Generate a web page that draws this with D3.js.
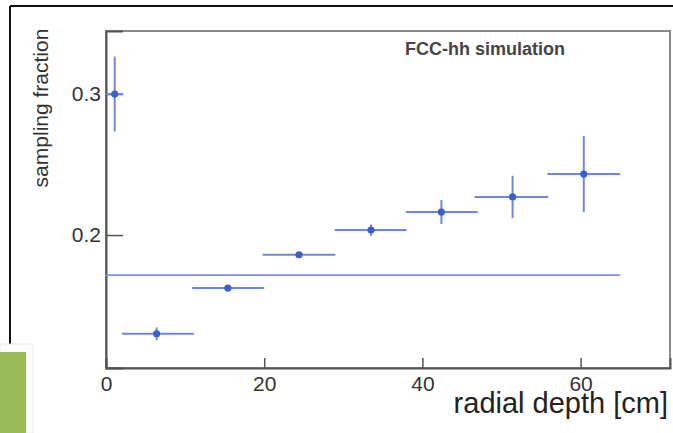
<!DOCTYPE html>
<html>
<head>
<meta charset="utf-8">
<script src="https://cdn.jsdelivr.net/npm/d3@7"></script>
<style>
  body { margin: 0; background: #fff; }
  svg { display: block; font-family: "Liberation Sans", Arial, sans-serif; }
</style>
</head>
<body>
<div id="chart"></div>
<script>
// data
var depth = [1.1, 6.4, 15.4, 24.4, 33.5, 42.4, 51.4, 60.4]
var depthLo = [0, 2.0, 10.9, 19.8, 28.9, 37.9, 46.6, 55.8]
var depthHi = [2.2, 11.1, 20.0, 29.0, 38.0, 47.0, 55.9, 65.0]
var fraction = [0.300, 0.130, 0.1624, 0.186, 0.2035, 0.2163, 0.227, 0.2433]
var fracErr = [0.0265, 0.0045, 0.002, 0.002, 0.004, 0.0085, 0.015, 0.027]
var fitValue = 0.1716
var fitRange = [0, 65]
var xMajor = [0, 20, 40, 60]
var xMinor = [5, 10, 15, 25, 30, 35, 45, 50, 55, 65, 70]
var yMajor = [0.2, 0.3]
var yMinor = [0.12, 0.14, 0.16, 0.18, 0.22, 0.24, 0.26, 0.28, 0.32, 0.34]

var W = 673, H = 433
var margin = { top: 31, right: 3, bottom: 65, left: 106 }
var svg = d3.select('#chart').append('svg')
  .attr('width', W)
  .attr('height', H)

// screenshot decorations: outer frame and the green box
svg.append('line').attr('x1', 10).attr('y1', 6).attr('x2', 673).attr('y2', 6)
  .attr('stroke', '#111').attr('stroke-width', 2)
svg.append('line').attr('x1', 10).attr('y1', 6).attr('x2', 10).attr('y2', 344)
  .attr('stroke', '#111').attr('stroke-width', 2)
svg.append('rect').attr('x', 0).attr('y', 344).attr('width', 33).attr('height', 89)
  .attr('fill', '#fcfcfc').attr('stroke', '#eee')
svg.append('rect').attr('x', 0).attr('y', 352).attr('width', 26).attr('height', 81)
  .attr('fill', '#9bbb59')

var x = d3.scaleLinear().domain([0, 71.3]).range([margin.left, W - margin.right])
var y = d3.scaleLinear().domain([0.1057, 0.3447]).range([H - margin.bottom, margin.top])

// frame
svg.append('rect')
  .attr('x', x(0)).attr('y', y.range()[1])
  .attr('width', x.range()[1] - x(0)).attr('height', y.range()[0] - y.range()[1])
  .attr('fill', 'none').attr('stroke', '#8a8a8a').attr('stroke-width', 2)

// x axis, ticks pointing inward
var gx = svg.append('g').attr('transform', 'translate(0,' + y.range()[0] + ')')
gx.call(d3.axisBottom(x).tickValues(xMinor).tickSize(-5).tickFormat(''))
gx.call(d3.axisBottom(x).tickValues(xMajor).tickSize(-10).tickPadding(7).tickFormat(d3.format('d')))
gx.selectAll('.domain').attr('stroke', '#555').attr('stroke-width', 2)
gx.selectAll('.tick line').attr('stroke', '#555').attr('stroke-width', 1.5)
gx.selectAll('text').attr('font-size', '21px').attr('fill', '#333').attr('dy', '0.75em')
  .attr('font-family', '"Liberation Sans", Arial, sans-serif')

// y axis
var gy = svg.append('g').attr('transform', 'translate(' + x(0) + ',0)')
gy.call(d3.axisLeft(y).tickValues(yMinor).tickSize(-9).tickFormat(''))
gy.call(d3.axisLeft(y).tickValues(yMajor).tickSize(-17).tickPadding(5).tickFormat(d3.format('.1f')))
gy.selectAll('.domain').attr('stroke', '#555').attr('stroke-width', 2)
gy.selectAll('.tick line').attr('stroke', '#555').attr('stroke-width', 1.5)
gy.selectAll('text').attr('font-size', '21px').attr('fill', '#333')
  .attr('font-family', '"Liberation Sans", Arial, sans-serif')

// fit line
svg.append('line')
  .attr('x1', x(fitRange[0])).attr('x2', x(fitRange[1]))
  .attr('y1', y(fitValue)).attr('y2', y(fitValue))
  .attr('stroke', '#7b93e2').attr('stroke-width', 1.6)

// points with error bars
var pts = svg.selectAll('.pt').data(depth).enter().append('g').attr('class', 'pt')
pts.append('line')
  .attr('x1', function (d, i) { return x(depthLo[i]) })
  .attr('x2', function (d, i) { return x(depthHi[i]) })
  .attr('y1', function (d, i) { return y(fraction[i]) })
  .attr('y2', function (d, i) { return y(fraction[i]) })
  .attr('stroke', '#6f88de').attr('stroke-width', 2)
pts.append('line')
  .attr('x1', function (d) { return x(d) })
  .attr('x2', function (d) { return x(d) })
  .attr('y1', function (d, i) { return y(fraction[i] - fracErr[i]) })
  .attr('y2', function (d, i) { return y(fraction[i] + fracErr[i]) })
  .attr('stroke', '#6f88de').attr('stroke-width', 2)
pts.append('circle')
  .attr('cx', function (d) { return x(d) })
  .attr('cy', function (d, i) { return y(fraction[i]) })
  .attr('r', 3.6)
  .attr('fill', '#3b5fd0')

// texts
svg.append('text')
  .attr('x', 405).attr('y', 55)
  .attr('font-size', '18px').attr('font-weight', 'bold').attr('fill', '#444')
  .text('FCC-hh simulation')
svg.append('text')
  .attr('x', 668).attr('y', 413)
  .attr('text-anchor', 'end')
  .attr('font-size', '29px').attr('fill', '#222')
  .text('radial depth [cm]')
svg.append('text')
  .attr('transform', 'translate(48,108) rotate(-90)')
  .attr('text-anchor', 'middle')
  .attr('font-size', '21px').attr('fill', '#333')
  .text('sampling fraction')
</script>
</body>
</html>
